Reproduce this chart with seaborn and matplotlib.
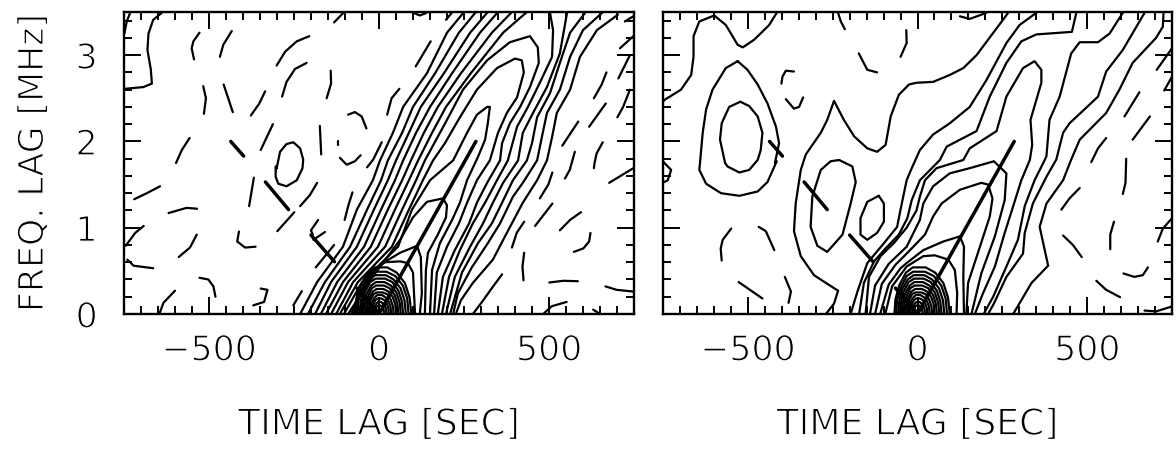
import matplotlib
matplotlib.use("Agg")
import matplotlib.pyplot as plt
import matplotlib.patheffects as pe
import matplotlib.ticker as ticker
import seaborn as sns

X_TICKS = [-500, 0, 500]
X_TICK_LABELS = ["\u2212500", "0", "500"]
Y_TICKS = [0, 1, 2, 3]
X_LABEL = "TIME LAG [SEC]"
Y_LABEL = "FREQ. LAG [MHz]"

# closed arcs around the origin, same in both panels
ORIGIN_ARCS = [
    ([-68, -65, -54, -34, -14, 24, 52, 76, 90, 95], [0, .17, .33, .48, .54, .54, .48, .36, .19, 0]),
    ([-63, -60, -50, -32, -13, 22, 48, 70, 83, 87], [0, .16, .30, .44, .49, .49, .44, .33, .18, 0]),
    ([-57, -54, -46, -29, -11, 20, 43, 63, 75, 79], [0, .14, .28, .40, .45, .45, .40, .30, .16, 0]),
    ([-52, -49, -42, -26, -10, 18, 39, 57, 67, 71], [0, .13, .25, .37, .41, .41, .37, .27, .15, 0]),
    ([-46, -44, -37, -23, -9, 16, 35, 51, 61, 64], [0, .12, .23, .33, .37, .37, .33, .25, .13, 0]),
    ([-41, -39, -33, -21, -8, 14, 31, 46, 54, 57], [0, .11, .20, .30, .33, .33, .30, .22, .12, 0]),
    ([-36, -34, -29, -18, -7, 13, 28, 40, 48, 50], [0, .09, .18, .26, .29, .29, .26, .20, .11, 0]),
    ([-31, -29, -25, -16, -6, 11, 24, 34, 41, 43], [0, .08, .16, .23, .25, .25, .23, .17, .09, 0]),
    ([-26, -25, -21, -13, -5, 9, 20, 29, 34, 36], [0, .07, .13, .19, .22, .22, .19, .14, .08, 0]),
    ([-21, -20, -17, -11, -4, 7, 16, 23, 28, 29], [0, .06, .11, .16, .18, .18, .16, .12, .06, 0]),
    ([-16, -15, -13, -8, -3, 6, 12, 18, 21, 22], [0, .04, .08, .12, .14, .14, .12, .09, .05, 0]),
    ([-11, -10, -9, -6, -2, 4, 8, 12, 14, 15], [0, .03, .06, .09, .10, .10, .09, .07, .04, 0]),
]

# thick fit lines, shared by both panels
THICK_LINES = [
    ([0, 285], [0, 2.0]),
    ([-65, 2], [.30, 0]),
    ([-200, -131], [.915, .606]),
    ([-334, -266], [1.53, 1.21]),
    ([-436, -398], [2.0, 1.83]),
]

LEFT_RIDGE_Y = [3.50, 3.26, 2.79, 2.40, 2.10, 1.78, 1.55, 1.21, .78, .37, 0]
LEFT_RIDGE_X = [
    [250, 200, 141, 71, 41, 3, -18, -65, -106, -182, -232],
    [285, 235, 165, 100, 68, 26, 6, -35, -85, -159, -209],
    [320, 268, 191, 123, 88, 50, 26, -15, -65, -141, -188],
    [350, 297, 215, 150, 109, 71, 47, 6, -44, -123, -171],
    [391, 332, 241, 173, 132, 94, 68, 26, -24, -106, -156],
    [435, 365, 270, 197, 156, 115, 88, 47, -3, -91, -141],
]

LEFT_SOLID = [
    ([-750, -747, -693, -668, -671, -681, -678, -664, -639], [2.61, 2.61, 2.63, 2.67, 2.83, 3.06, 3.25, 3.41, 3.49]),
    ([-301, -291, -272, -252, -232, -223, -225, -242, -272, -296, -304, -304, -301],
     [1.69, 1.88, 1.97, 1.99, 1.92, 1.79, 1.69, 1.55, 1.48, 1.51, 1.59, 1.71, 1.69]),
    ([-126, -76, 18, 68, 109, 135, 200, 247, 318, 385, 444, 467, 470, 444, 415, 385, 362, 356, 318, 288, 265, 223, 188, 173],
     [0, .37, .78, 1.21, 1.55, 1.78, 2.25, 2.60, 2.94, 3.15, 3.22, 3.09, 2.91, 2.63, 2.40, 2.21, 1.98, 1.78, 1.52, 1.29, 1.05, .74, .43, 0]),
    ([-115, -62, 38, 88, 129, 159, 194, 238, 288, 347, 400, 420, 426, 406, 376, 350, 326, 288, 259, 235, 200, 170, 162],
     [0, .37, .78, 1.21, 1.55, 1.78, 1.98, 2.28, 2.60, 2.85, 2.96, 2.94, 2.80, 2.51, 2.33, 2.10, 1.78, 1.55, 1.29, 1.05, .78, .48, 0]),
    ([-103, -50, 56, 97, 150, 218, 259, 288, 318, 326, 320, 312, 291, 259, 238, 215, 179, 156, 150],
     [0, .37, .78, 1.21, 1.55, 1.78, 2.10, 2.31, 2.40, 2.40, 2.21, 2.02, 1.82, 1.55, 1.29, 1.09, .82, .51, 0]),
    ([-91, -26, 62, 100, 141, 188, 200, 197, 173, 144, 138, 135], [0, .39, .86, 1.12, 1.30, 1.34, 1.26, 1.12, .92, .71, .51, 0]),
    ([-82, -41, 3, 62, 112, 123, 126, 120], [0, .36, .57, .71, .79, .66, .24, 0]),
    ([-74, -62, -26, 18, 62, 85, 100, 106], [0, .28, .49, .60, .61, .59, .48, 0]),
    ([503, 512, 509, 473, 438, 406, 379, 347, 312, 276, 238, 206, 185],
     [3.49, 3.29, 2.98, 2.68, 2.40, 2.17, 1.78, 1.55, 1.29, 1.05, .74, .43, 0]),
    ([553, 532, 494, 453, 423, 409, 365, 335, 306, 268, 223, 197],
     [3.49, 3.02, 2.63, 2.33, 2.10, 1.78, 1.52, 1.29, 1.05, .78, .43, 0]),
    ([606, 562, 532, 503, 465, 450, 435, 394, 362, 332, 291, 244, 209],
     [3.49, 3.26, 2.91, 2.56, 2.28, 1.98, 1.78, 1.55, 1.29, 1.05, .82, .48, 0]),
    ([656, 600, 562, 532, 494, 479, 465, 423, 394, 356, 320, 273, 232, 218],
     [3.49, 3.29, 2.98, 2.60, 2.33, 2.05, 1.78, 1.52, 1.36, 1.05, .82, .54, .24, 0]),
    ([703, 641, 591, 562, 523, 509, 494, 465, 423, 376, 335, 276, 241, 226],
     [3.47, 3.29, 2.98, 2.60, 2.33, 2.05, 1.78, 1.55, 1.29, .94, .63, .36, .16, 0]),
]

LEFT_DASHES = [
    ([-749, -742, -732], [3.25, 3.39, 3.49]),
    ([-528, -546, -551, -544], [3.26, 3.16, 3.08, 2.95]),
    ([-433, -458, -468], [3.28, 3.12, 2.98]),
    ([-205, -242, -276, -301], [3.22, 3.16, 3.04, 2.88]),
    ([-213, -247, -272, -285], [2.91, 2.84, 2.69, 2.52]),
    ([-142, -141, -154], [2.82, 2.67, 2.50]),
    ([-105, -132], [3.49, 3.38]),
    ([-517, -509, -515], [2.64, 2.50, 2.32]),
    ([-457, -430], [2.66, 2.34]),
    ([-335, -352, -377], [2.58, 2.44, 2.30]),
    ([-312, -348], [2.20, 1.90]),
    ([-174, -170], [2.18, 1.85]),
    ([-91, -71, -51, -37], [2.31, 2.34, 2.29, 2.15]),
    ([-121, -121], [2.01, 1.96]),
    ([-115, -95, -71, -54], [1.81, 1.73, 1.77, 1.84]),
    ([-557, -580, -597], [2.04, 1.90, 1.75]),
    ([-644, -683, -720], [1.48, 1.40, 1.33]),
    ([-619, -566, -535], [1.17, 1.23, 1.22]),
    ([-368, -382], [1.58, 1.25]),
    ([-182, -203, -232], [1.52, 1.38, 1.25]),
    ([-249, -299], [1.18, .96]),
    ([-78, -90, -101], [1.41, 1.26, 1.09]),
    ([-179, -200, -195], [1.09, .97, .92]),
    ([-159, -193], [.95, .86]),
    ([-132, -186], [.80, .54]),
    ([-692, -717, -745], [1.02, .94, .79]),
    ([-536, -556, -589], [.92, .77, .66]),
    ([-412, -417, -394, -363], [.955, .84, .77, .78]),
    ([-740, -722, -664], [.63, .56, .53]),
    ([-528, -502, -487, -481], [.42, .40, .32, .20]),
    ([-600, -634, -646], [.27, .13, 0]),
    ([-348, -328, -338, -370], [.295, .28, .14, .10]),
    ([-227, -252], [.265, .10]),
    ([101, 120, 140], [3.49, 3.46, 3.49]),
    ([152, 108], [3.16, 2.87]),
    ([60, 37, 24], [2.61, 2.50, 2.31]),
    ([8, -17, -35], [1.99, 1.79, 1.70]),
    ([197, 214], [3.41, 3.49]),
    ([669, 655, 632], [2.80, 2.66, 2.50]),
    ([667, 618], [2.44, 2.17]),
    ([586, 539], [2.23, 1.95]),
    ([658, 640, 634, 632], [1.99, 1.86, 1.75, 1.69]),
    ([576, 561, 547], [1.88, 1.67, 1.57]),
    ([748, 709], [3.22, 3.08]),
    ([748, 723], [3.45, 3.39]),
    ([738, 704], [3.0, 2.73]),
    ([738, 718, 701], [2.60, 2.40, 2.28]),
    ([748, 677], [1.69, 1.52]),
    ([510, 498, 473], [1.64, 1.50, 1.34]),
    ([510, 459], [1.28, 1.02]),
    ([427, 405, 391], [1.07, .94, .77]),
    ([594, 562, 532], [1.18, 1.09, .97]),
    ([622, 618, 601, 573], [.94, .84, .76, .72]),
    ([427, 422, 425], [.71, .55, .39]),
    ([501, 542, 585], [.365, .385, .38]),
    ([666, 699, 748], [.32, .28, .26]),
    ([483, 508, 552], [0, .09, .14]),
    ([630, 650], [.05, 0]),
    ([362, 332, 303, 276], [.46, .30, .14, 0]),
]

RIGHT_SOLID = [
    ([-750, -746, -697, -667, -660, -660, -643, -599, -565, -530, -515, -481, -437, -415],
     [2.46, 2.48, 2.60, 2.77, 2.98, 3.22, 3.39, 3.46, 3.35, 3.12, 3.09, 3.18, 3.35, 3.49]),
    ([-530, -565, -604, -623, -633, -641, -643, -623, -579, -525, -471, -442, -415, -420, -408, -417, -442, -471, -501, -530],
     [2.93, 2.85, 2.60, 2.37, 2.10, 1.75, 1.67, 1.51, 1.40, 1.37, 1.42, 1.53, 1.77, 1.75, 1.98, 2.17, 2.44, 2.66, 2.83, 2.93]),
    ([-522, -555, -577, -582, -567, -560, -525, -496, -471, -462, -457, -471, -496, -522],
     [2.46, 2.40, 2.21, 2.02, 1.75, 1.71, 1.64, 1.67, 1.785, 1.90, 2.10, 2.29, 2.41, 2.46]),
    ([-270, -246, -234, -266, -305, -344, -364, -359, -344, -334, -329, -285, -266, -246, -217, -187, -148, -119, -94, -79, -55, -25, -3, 46, 95, 135, 174, 252, 267],
     [0, .12, .27, .35, .45, .67, .96, 1.28, 1.67, 1.79, 1.85, 2.10, 2.25, 2.47, 2.25, 2.06, 1.92, 1.88, 1.96, 2.29, 2.54, 2.66, 2.68, 2.69, 2.77, 2.85, 3.0, 3.41, 3.49]),
    ([-231, -192, -182, -197, -221, -266, -295, -315, -310, -285, -256, -231],
     [1.785, 1.71, 1.53, 1.28, .92, .72, .79, 1.01, 1.36, 1.67, 1.77, 1.785]),
    ([-114, -99, -99, -119, -148, -168, -168, -148, -114], [1.37, 1.28, 1.07, .94, .86, .92, 1.11, 1.30, 1.37]),
    ([-750, -746, -726, -736, -746, -750], [1.77, 1.75, 1.67, 1.55, 1.53, 1.53]),
    ([350, 301, 262, 203, 154, 95, 46, 7, -17, -32, -50, -60, -99, -148, -177, -197],
     [3.49, 3.35, 3.14, 2.71, 2.40, 2.21, 2.08, 1.90, 1.69, 1.55, 1.21, 1.01, .82, .59, .26, 0]),
    ([468, 455, 350, 306, 262, 213, 174, 86, 66, 7, -17, -30, -55, -94, -128, -158, -172],
     [3.49, 3.27, 3.24, 3.16, 2.91, 2.52, 2.12, 1.94, 1.785, 1.55, 1.32, 1.11, .92, .76, .61, .36, 0]),
    ([-153, -143, -109, -70, -32, -3, 7, 22, 56, 135, 154, 233, 262, 311, 345, 365, 365, 333, 338, 331, 306, 282, 257, 228, 193, 169],
     [0, .43, .67, .82, 1.0, 1.2, 1.36, 1.55, 1.69, 1.785, 1.92, 2.12, 2.52, 2.85, 2.93, 2.83, 2.68, 2.25, 1.96, 1.785, 1.55, 1.25, .94, .55, .24, 0]),
    ([-140, -125, -85, -32, 7, 17, 46, 95, 154, 225, 262, 257, 228, 188, 159],
     [0, .33, .58, .78, 1.09, 1.28, 1.48, 1.63, 1.69, 1.77, 1.63, 1.32, .90, .47, 0]),
    ([-125, -105, -65, -32, 22, 46, 71, 125, 188, 208, 221, 213, 179, 149, 144],
     [0, .35, .57, .70, .92, 1.13, 1.28, 1.44, 1.52, 1.50, 1.34, 1.13, .72, .36, 0]),
    ([-110, -85, -50, -32, 17, 76, 125, 137, 135, 137], [0, .34, .53, .59, .74, .84, .90, .78, .43, 0]),
    ([-95, -75, -32, 17, 51, 91, 110, 117, 115], [0, .32, .55, .67, .68, .63, .51, .24, 0]),
    ([605, 566, 532, 478, 453, 419, 389, 380, 375, 345, 316, 296, 262, 223, 195],
     [3.49, 3.25, 3.15, 3.15, 3.02, 2.52, 2.25, 1.83, 1.785, 1.55, 1.25, .86, .55, .20, 0]),
    ([669, 605, 556, 532, 497, 448, 429, 409, 380, 340, 316, 311, 262, 225, 208],
     [3.49, 3.06, 2.81, 2.52, 2.39, 2.21, 2.10, 1.79, 1.59, 1.28, .94, .70, .43, .12, 0]),
    ([725, 723, 703, 634, 595, 556, 478, 453, 429, 380, 360, 375, 385, 336, 306, 282],
     [3.49, 3.33, 3.20, 2.91, 2.60, 2.33, 2.02, 1.79, 1.55, 1.28, 1.01, .74, .56, .36, .16, 0]),
]

RIGHT_DASHES = [
    ([-364, -388, -398, -401], [2.81, 2.82, 2.75, 2.67]),
    ([-388, -364, -349, -337], [2.49, 2.38, 2.40, 2.51]),
    ([-234, -226, -214], [3.49, 3.39, 3.30]),
    ([-173, -148, -119], [3.02, 2.83, 2.80]),
    ([-33, -32, -50], [3.29, 3.14, 2.98]),
    ([-549, -574, -580, -577], [.99, .86, .76, .62]),
    ([-468, -447, -422], [1.01, .96, .74]),
    ([-527, -457], [.37, .18]),
    ([-391, -373, -380], [.43, .26, .13]),
    ([750, 705], [3.08, 2.83]),
    ([750, 727], [2.75, 2.59]),
    ([654, 610], [2.57, 2.29]),
    ([685, 634], [2.29, 2.02]),
    ([556, 532, 512], [2.04, 1.92, 1.76]),
    ([125, 154, 203], [3.45, 3.42, 3.49]),
    ([615, 613, 605], [1.80, 1.52, 1.39]),
    ([478, 448, 424], [1.46, 1.34, 1.21]),
    ([579, 568, 568], [1.07, .92, .75]),
    ([429, 458, 484], [.91, .80, .66]),
    ([607, 639, 664, 679], [.47, .43, .45, .54]),
    ([527, 556, 597], [.385, .28, .195]),
    ([669, 703, 752], [.04, .03, .09]),
    ([750, 723, 708], [1.11, .99, .84]),
]

# glyphs are thinned with a white edge, the reference uses a thin stroke font
THIN = [pe.Stroke(linewidth=0.9, foreground="white")]


def draw_lines(ax, lines, width):
    for xs, ys in lines:
        sns.lineplot(x=xs, y=ys, ax=ax, color="black", linewidth=width, sort=False,
                     estimator=None, legend=False, solid_joinstyle="round", solid_capstyle="round")


def style_axis(ax):
    ax.set_xlim(-750, 750)
    ax.set_ylim(0, 3.5)
    ax.set_xticks(X_TICKS)
    ax.set_xticklabels(X_TICK_LABELS)
    ax.set_yticks(Y_TICKS)
    ax.xaxis.set_minor_locator(ticker.MultipleLocator(50))
    ax.yaxis.set_minor_locator(ticker.MultipleLocator(0.2))
    ax.tick_params(which="both", direction="in", bottom=True, left=True, top=True, right=True,
                   color="black", labelcolor="black", width=1.4)
    ax.tick_params(which="major", length=12, labelsize=25)
    ax.tick_params(which="minor", length=6)
    ax.tick_params(axis="x", which="major", pad=14)
    ax.tick_params(axis="y", which="major", pad=19)
    for spine in ax.spines.values():
        spine.set_linewidth(1.7)
        spine.set_color("black")
    ax.set_xlabel(X_LABEL, fontsize=26, labelpad=29, color="black", path_effects=THIN)
    for label in ax.get_xticklabels() + ax.get_yticklabels():
        label.set_path_effects(THIN)


sns.set_theme(style="white")
plt.rcParams["font.family"] = ["DejaVu Sans"]

fig = plt.figure(figsize=(11.76, 4.5), dpi=100)
ax_left = fig.add_axes([124 / 1176, 136 / 450, 510 / 1176, 302 / 450])
ax_right = fig.add_axes([663 / 1176, 136 / 450, 509 / 1176, 302 / 450])

left_ridge = [(xs, LEFT_RIDGE_Y) for xs in LEFT_RIDGE_X]
for ax, lines in [(ax_left, left_ridge + LEFT_SOLID + LEFT_DASHES), (ax_right, RIGHT_SOLID + RIGHT_DASHES)]:
    draw_lines(ax, lines + ORIGIN_ARCS, 1.6)
    draw_lines(ax, THICK_LINES, 2.5)
    style_axis(ax)

ax_right.set_yticklabels([])
ax_left.set_ylabel(Y_LABEL, fontsize=25, color="black", path_effects=THIN)
ax_left.yaxis.set_label_coords(-0.145, 0.5)

fig.savefig("out.png", dpi=100)
